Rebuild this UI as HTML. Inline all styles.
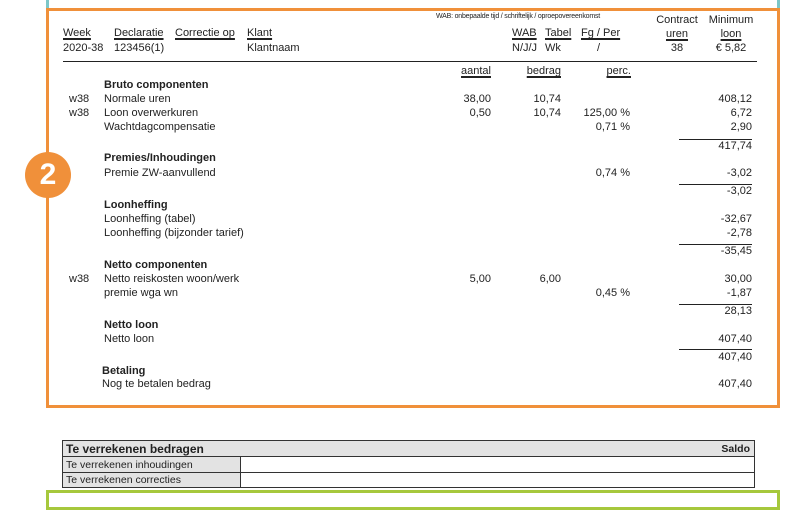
<!DOCTYPE html>
<html><head><meta charset="utf-8"><style>
*{margin:0;padding:0;box-sizing:border-box}
body{width:800px;height:500px;background:#fff;position:relative;overflow:hidden;font-family:"Liberation Sans",Arial,sans-serif;font-size:11px;color:#222}
.t{position:absolute;line-height:14px;white-space:nowrap}
.r{text-align:right}
.b{font-weight:bold}
.u{text-decoration:underline;text-underline-offset:2px;text-decoration-thickness:1.5px}
.ln{position:absolute;height:1px;background:#222}
</style></head><body>
<div style="position:absolute;left:46px;top:0;width:3px;height:10px;background:#7cc6c8"></div>
<div style="position:absolute;left:777px;top:0;width:3px;height:10px;background:#7cc6c8"></div>
<div style="position:absolute;left:46px;top:8px;width:734px;height:400px;border:3px solid #f0903a"></div>
<div style="position:absolute;left:25px;top:152px;width:46px;height:46px;border-radius:50%;background:#f0903a;color:#fff;font-weight:bold;font-size:30px;line-height:46px;text-align:center">2</div>

<div class="t" style="left:436px;top:12px;font-size:7px;line-height:10px;letter-spacing:-0.2px">WAB: onbepaalde tijd / schriftelijk / oproepovereenkomst</div>
<div class="t u" style="left:63px;top:26px">Week</div>
<div class="t u" style="left:114px;top:26px">Declaratie</div>
<div class="t u" style="left:175px;top:26px">Correctie op</div>
<div class="t u" style="left:247px;top:26px">Klant</div>
<div class="t u" style="left:512px;top:26px">WAB</div>
<div class="t u" style="left:545px;top:26px">Tabel</div>
<div class="t u" style="left:581px;top:26px">Fg / Per</div>
<div class="t" style="left:650px;top:13px;width:54px;text-align:center">Contract<br><span class="u">uren</span><br>38</div>
<div class="t" style="left:704px;top:13px;width:54px;text-align:center">Minimum<br><span class="u">loon</span><br>€ 5,82</div>
<div class="t" style="left:63px;top:41px">2020-38</div>
<div class="t" style="left:114px;top:41px">123456(1)</div>
<div class="t" style="left:247px;top:41px">Klantnaam</div>
<div class="t" style="left:512px;top:41px">N/J/J</div>
<div class="t" style="left:545px;top:41px">Wk</div>
<div class="t" style="left:597px;top:41px">/</div>
<div class="ln" style="left:63px;top:61px;width:694px"></div>

<div class="t u r" style="left:440px;top:64px;width:51px">aantal</div>
<div class="t u r" style="left:510px;top:64px;width:51px">bedrag</div>
<div class="t u r" style="left:580px;top:64px;width:51px">perc.</div>

<div class="t b" style="left:104px;top:78px">Bruto componenten</div>
<div class="t" style="left:69px;top:92px">w38</div><div class="t" style="left:104px;top:92px">Normale uren</div>
<div class="t r" style="left:400px;top:92px;width:91px">38,00</div><div class="t r" style="left:470px;top:92px;width:91px">10,74</div><div class="t r" style="left:652px;top:92px;width:100px">408,12</div>
<div class="t" style="left:69px;top:106px">w38</div><div class="t" style="left:104px;top:106px">Loon overwerkuren</div>
<div class="t r" style="left:400px;top:106px;width:91px">0,50</div><div class="t r" style="left:470px;top:106px;width:91px">10,74</div><div class="t r" style="left:530px;top:106px;width:100px">125,00 %</div><div class="t r" style="left:652px;top:106px;width:100px">6,72</div>
<div class="t" style="left:104px;top:120px">Wachtdagcompensatie</div>
<div class="t r" style="left:530px;top:120px;width:100px">0,71 %</div><div class="t r" style="left:652px;top:120px;width:100px">2,90</div>
<div class="ln" style="left:679px;top:139px;width:73px"></div>
<div class="t r" style="left:652px;top:139px;width:100px">417,74</div>

<div class="t b" style="left:104px;top:151px">Premies/Inhoudingen</div>
<div class="t" style="left:104px;top:166px">Premie ZW-aanvullend</div>
<div class="t r" style="left:530px;top:166px;width:100px">0,74 %</div><div class="t r" style="left:652px;top:166px;width:100px">-3,02</div>
<div class="ln" style="left:679px;top:184px;width:73px"></div>
<div class="t r" style="left:652px;top:184px;width:100px">-3,02</div>

<div class="t b" style="left:104px;top:198px">Loonheffing</div>
<div class="t" style="left:104px;top:212px">Loonheffing (tabel)</div><div class="t r" style="left:652px;top:212px;width:100px">-32,67</div>
<div class="t" style="left:104px;top:226px">Loonheffing (bijzonder tarief)</div><div class="t r" style="left:652px;top:226px;width:100px">-2,78</div>
<div class="ln" style="left:679px;top:244px;width:73px"></div>
<div class="t r" style="left:652px;top:244px;width:100px">-35,45</div>

<div class="t b" style="left:104px;top:258px">Netto componenten</div>
<div class="t" style="left:69px;top:272px">w38</div><div class="t" style="left:104px;top:272px">Netto reiskosten woon/werk</div>
<div class="t r" style="left:400px;top:272px;width:91px">5,00</div><div class="t r" style="left:470px;top:272px;width:91px">6,00</div><div class="t r" style="left:652px;top:272px;width:100px">30,00</div>
<div class="t" style="left:104px;top:286px">premie wga wn</div>
<div class="t r" style="left:530px;top:286px;width:100px">0,45 %</div><div class="t r" style="left:652px;top:286px;width:100px">-1,87</div>
<div class="ln" style="left:679px;top:304px;width:73px"></div>
<div class="t r" style="left:652px;top:304px;width:100px">28,13</div>

<div class="t b" style="left:104px;top:318px">Netto loon</div>
<div class="t" style="left:104px;top:332px">Netto loon</div><div class="t r" style="left:652px;top:332px;width:100px">407,40</div>
<div class="ln" style="left:679px;top:349px;width:73px"></div>
<div class="t r" style="left:652px;top:350px;width:100px">407,40</div>

<div class="t b" style="left:102px;top:364px">Betaling</div>
<div class="t" style="left:102px;top:377px">Nog te betalen bedrag</div><div class="t r" style="left:652px;top:377px;width:100px">407,40</div>

<div style="position:absolute;left:62px;top:440px;width:693px;height:48px;border:1px solid #333;font-size:10.5px">
 <div style="position:absolute;left:0;top:0;width:691px;height:16px;background:#e3e3e3;border-bottom:1px solid #333"></div>
 <div class="t b" style="left:3px;top:1px;font-size:12px">Te verrekenen bedragen</div>
 <div class="t b" style="right:4px;top:1px">Saldo</div>
 <div style="position:absolute;left:0;top:16px;width:178px;height:30px;background:#e3e3e3;border-right:1px solid #333"></div>
 <div class="ln" style="left:0;top:31px;width:691px;background:#333"></div>
 <div class="t" style="left:3px;top:17px">Te verrekenen inhoudingen</div>
 <div class="t" style="left:3px;top:32px">Te verrekenen correcties</div>
</div>
<div style="position:absolute;left:46px;top:490px;width:734px;height:20px;border:3px solid #a6c83c"></div>
</body></html>
